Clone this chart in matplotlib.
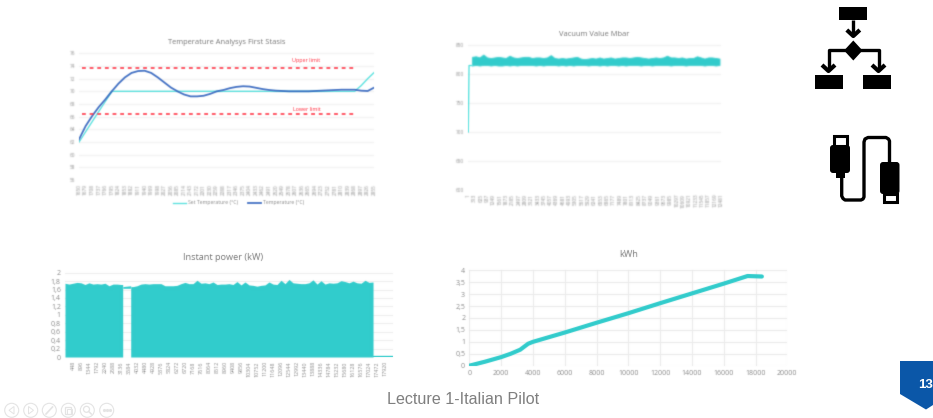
import numpy as np
import matplotlib
matplotlib.use("Agg")
import matplotlib.pyplot as plt
from matplotlib.patches import Polygon, Rectangle, FancyBboxPatch, Circle
from matplotlib.ticker import FuncFormatter

W, H = 933, 418
TEAL = "#31cccc"
LIGHT_TEAL = "#5fe3e0"
BLUE = "#4472c4"
RED = "#ff2a3c"
GREY = "#8a8a8a"
GRID = "#efefef"

# Temperature chart
temp_labels = [str(1650 + 29 * i) for i in range(46)]
temp_ticks = [76, 74, 72, 70, 68, 66, 64, 62, 60, 58, 56]
set_temperature = [62.0, 63.6, 65.2, 66.8, 68.4, 70.0, 70, 70, 70, 70, 70, 70, 70, 70, 70, 70,
                   70, 70, 70, 70, 70, 70, 70, 70, 70, 70, 70, 70, 70, 70, 70, 70,
                   70, 70, 70, 70, 70, 70, 70, 70, 70, 70, 70, 70.9, 72.0, 73.0]
temperature = [62.4, 64.5, 66.1, 67.5, 68.7, 70.0, 71.2, 72.2, 72.9, 73.2, 73.25, 72.9, 72.2, 71.4,
               70.6, 70.0, 69.5, 69.2, 69.2, 69.3, 69.6, 70.0, 70.2, 70.5, 70.7, 70.8, 70.75, 70.55,
               70.35, 70.2, 70.1, 70.05, 70.0, 70.0, 70.0, 70.0, 70.05, 70.1, 70.15, 70.2, 70.25,
               70.25, 70.25, 70.1, 70.05, 70.6]
upper_limit = [73.75] * 43
lower_limit = [66.35] * 43

# Vacuum chart
vacuum_labels = ["1", "313", "625", "937", "1249", "1561", "1873", "2185", "2497", "2809", "3121",
                 "3433", "3745", "4057", "4369", "4681", "4993", "5305", "5617", "5929", "6241",
                 "6553", "6865", "7177", "7489", "7801", "8113", "8425", "8737", "9049", "9361",
                 "9673", "9985", "10297", "10609", "10921", "11233", "11545", "11857", "12169", "12481"]
vacuum_ticks = [850, 800, 750, 700, 650, 600]
vacuum_start = 700
vacuum_upper = [830, 831, 829, 834, 829, 828, 829, 830, 829, 828, 832, 829, 828, 829, 830, 830,
                828, 829, 829, 828, 829, 833, 828, 827, 828, 827, 828, 829, 830, 827, 826, 827,
                828, 827, 829, 827, 828, 829, 827, 828, 829, 829, 828, 829, 830, 829, 828, 827,
                828, 829, 828, 829, 832, 829, 829, 828, 829, 827, 828, 828, 831, 829, 827, 829,
                829, 828, 827]
vacuum_lower = [815, 816, 815, 816, 816, 815, 816, 815, 815, 816, 815, 816, 815, 816, 816, 816,
                816, 815, 816, 815, 816, 816, 816, 815, 816, 815, 816, 815, 816, 816, 816, 815,
                816, 816, 815, 816, 815, 816, 816, 815, 816, 815, 816, 816, 816, 815, 816, 816,
                815, 816, 816, 816, 816, 815, 816, 816, 816, 815, 816, 816, 816, 816, 815, 816,
                816, 815, 816]

# Instant power chart
power_labels = [448 * k for k in range(1, 41)]
power_ticks = [0, 0.2, 0.4, 0.6, 0.8, 1, 1.2, 1.4, 1.6, 1.8, 2]
power_top = [1.75, 1.73, 1.75, 1.77, 1.76, 1.72, 1.76, 1.73, 1.74, 1.73, 1.75, 1.69, 1.73, 1.73, 1.72, 1.73,
             1.68, 1.67, 1.69, 1.73, 1.74, 1.73, 1.74, 1.74, 1.74, 1.69, 1.69, 1.69, 1.70, 1.74, 1.77,
             1.74, 1.74, 1.82, 1.75, 1.76, 1.74, 1.78, 1.72, 1.73, 1.73, 1.74, 1.72, 1.79, 1.71, 1.78,
             1.71, 1.70, 1.68, 1.70, 1.71, 1.78, 1.73, 1.72, 1.82, 1.74, 1.84, 1.76, 1.75, 1.74, 1.74,
             1.76, 1.83, 1.73, 1.81, 1.73, 1.76, 1.75, 1.76, 1.81, 1.79, 1.76, 1.80, 1.76, 1.75, 1.82,
             1.77, 1.78]
power_x = [224 * i for i in range(len(power_top))]
power_gap = (3230, 3680)
power_gap_floor = 1.63
power_tail = 0.02
power_xmax = 18350

# Energy chart
kwh_x = [0, 1000, 2000, 2600, 3200, 3700, 4000, 6000, 8000, 10000, 12000, 14000, 16000, 17500, 18400]
kwh_y = [0, 0.17, 0.36, 0.5, 0.67, 0.92, 1.0, 1.39, 1.8, 2.2, 2.62, 3.03, 3.44, 3.76, 3.74]
kwh_yticks = [0, 0.5, 1, 1.5, 2, 2.5, 3, 3.5, 4]
kwh_xticks = list(range(0, 20001, 2000))


def soften(sigma):
    """Return an agg filter applying a Gaussian blur on premultiplied colour."""
    radius = int(np.ceil(3 * sigma))
    kernel = np.exp(-0.5 * (np.arange(-radius, radius + 1) / sigma) ** 2)
    kernel /= kernel.sum()

    def apply(img, dpi):
        pad = radius
        padded = np.pad(img, ((pad, pad), (pad, pad), (0, 0)))
        alpha = padded[..., 3:4]
        work = np.concatenate([padded[..., :3] * alpha, alpha], axis=2)
        for axis in (0, 1):
            work = np.apply_along_axis(lambda m: np.convolve(m, kernel, mode="same"), axis, work)
        a = work[..., 3:4]
        rgb = np.where(a > 1e-4, work[..., :3] / np.maximum(a, 1e-4), 0.0)
        return np.clip(np.concatenate([rgb, a], axis=2), 0, 1), -pad, -pad

    return apply


def blur_artists(ax, sigma):
    f = soften(sigma)
    for art in ax.get_children():
        if hasattr(art, "set_agg_filter") and art is not ax.patch:
            art.set_agg_filter(f)
    for lab in ax.get_xticklabels() + ax.get_yticklabels():
        lab.set_agg_filter(f)
    for axis in (ax.xaxis, ax.yaxis):
        for tick in axis.get_major_ticks():
            tick.gridline.set_agg_filter(f)


def decimal(v, _=None):
    return f"{v:g}".replace(".", ",")


def panel(x0, x1, ytop, ybot):
    ax = fig.add_axes([x0 / W, 1 - ybot / H, (x1 - x0) / W, (ybot - ytop) / H])
    ax.patch.set_alpha(0)
    for s in ax.spines.values():
        s.set_visible(False)
    ax.tick_params(length=0)
    ax.set_axisbelow(True)
    return ax


plt.rcParams["font.family"] = ["Open Sans", "DejaVu Sans"]
fig = plt.figure(figsize=(W / 100, H / 100), dpi=100, facecolor="white")

# --- temperature ---
ax = panel(79, 374.3, 53.3, 180)
idx = np.arange(len(temp_labels))
ax.plot(idx, set_temperature, color=LIGHT_TEAL, lw=1.0, label="Set Temperature (°C)")
ax.plot(idx, temperature, color=BLUE, lw=1.3, label="Temperature (°C)")
ax.plot(idx[:43] + 0.4, upper_limit, color=RED, lw=1.1, ls=(0, (2.5, 2.5)))
ax.plot(idx[:43] + 0.4, lower_limit, color=RED, lw=1.1, ls=(0, (2.5, 2.5)))
ax.set_xlim(0, 45)
ax.set_ylim(56, 76)
ax.set_yticks(temp_ticks)
ax.set_xticks(idx, temp_labels, rotation=90)
ax.tick_params(axis="both", labelsize=3.4, labelcolor=GREY, pad=3)
ax.grid(axis="y", color=GRID, lw=0.7)
ax.text(34.6, 74.85, "Upper limit", color=RED, fontsize=3.9, ha="center", va="center")
ax.text(34.7, 67.15, "Lower limit", color=RED, fontsize=3.9, ha="center", va="center")
leg = ax.legend(loc="upper left", bbox_to_anchor=(0.31, -0.14), ncol=2, frameon=False, fontsize=3.7,
                labelcolor=GREY, handlelength=2.6, columnspacing=1.9, handletextpad=0.3, borderpad=0)
ax.set_title("Temperature Analysys First Stasis", fontsize=5.4, color="#777777", pad=7)
blur_artists(ax, 0.55)
leg.set_agg_filter(soften(0.55))

# --- vacuum ---
ax = panel(468.3, 721, 45.3, 189.7)
n = len(vacuum_upper)
vx = np.arange(n) + 1
ax.fill_between(vx, vacuum_lower, vacuum_upper, color=TEAL, lw=0.6)
ax.plot([0, 0.2, 1], [vacuum_start, vacuum_upper[0] - 15, vacuum_lower[0]], color=LIGHT_TEAL, lw=1)
ax.set_xlim(0, n + 0.4)
ax.set_ylim(600, 850)
ax.set_yticks(vacuum_ticks)
pos = np.linspace(0, n + 0.4, len(vacuum_labels))
ax.set_xticks(pos, vacuum_labels, rotation=90)
ax.tick_params(axis="both", labelsize=3.4, labelcolor=GREY, pad=3)
ax.grid(axis="y", color=GRID, lw=0.7)
ax.set_title("Vacuum Value Mbar", fontsize=5.4, color="#777777", pad=6.5)
blur_artists(ax, 0.55)

# --- instant power ---
ax = panel(65, 392.7, 272.7, 357)
px = np.array(power_x, dtype=float)
top = np.array(power_top)
left = px < power_gap[0]
right = px > power_gap[1]
# the fill stops either side of the outage, where only a thin cap of readings remains
ax.fill_between(np.r_[px[left], power_gap[0]], 0, np.r_[top[left], top[left][-1]], color=TEAL, lw=0)
ax.fill_between(np.r_[power_gap[1], px[right]], 0, np.r_[top[right][0], top[right]], color=TEAL, lw=0)
ax.fill_between([power_gap[0], 3450, power_gap[1]], power_gap_floor, [1.67, 1.68, 1.69], color=TEAL, lw=0)
ax.plot([px[-1], power_xmax], [power_tail, power_tail], color=TEAL, lw=1.0)
ax.set_xlim(0, power_xmax)
ax.set_ylim(0, 2)
ax.set_yticks(power_ticks)
ax.yaxis.set_major_formatter(FuncFormatter(decimal))
ax.set_xticks(power_labels, [str(v) for v in power_labels], rotation=90)
ax.tick_params(axis="y", labelsize=5.0, labelcolor=GREY, pad=3)
ax.tick_params(axis="x", labelsize=3.9, labelcolor=GREY, pad=3)
ax.grid(axis="y", color=GRID, lw=0.8)
ax.set_title("Instant power (kW)", fontsize=6.6, color="#777777", pad=9, x=0.482)
blur_artists(ax, 0.45)

# --- kWh ---
ax = panel(469.3, 787.3, 270.3, 365.7)
ax.plot(kwh_x, kwh_y, color=TEAL, lw=3.0, solid_capstyle="round")
ax.set_xlim(0, 20000)
ax.set_ylim(0, 4)
ax.set_xticks(kwh_xticks)
ax.set_yticks(kwh_yticks)
ax.yaxis.set_major_formatter(FuncFormatter(decimal))
ax.tick_params(axis="both", labelsize=5.0, labelcolor=GREY, pad=3)
ax.grid(True, color="#ececec", lw=0.8)
ax.set_title("kWh", fontsize=6.6, color="#777777", pad=9.5)
blur_artists(ax, 0.45)

# --- slide furniture in pixel coordinates ---
ov = fig.add_axes([0, 0, 1, 1], facecolor="none")
ov.set_xlim(0, W)
ov.set_ylim(H, 0)
ov.axis("off")

BLACK = "#000000"


def wire(xs, ys, lw=2.4, color=BLACK):
    ov.plot(xs, ys, color=color, lw=lw, solid_joinstyle="round", solid_capstyle="butt")


def box(x0, y0, x1, y1):
    ov.add_patch(Rectangle((x0, y0), x1 - x0, y1 - y0, color=BLACK, lw=0))


def chevron(x, y):
    wire([x - 6.5, x, x + 6.5], [y - 6, y, y - 6], lw=3.0)


# flow chart icon
box(839.3, 6.7, 867.3, 20)
wire([853.3, 853.3], [20, 35])
chevron(853.3, 36)
ov.add_patch(Polygon([[853.3, 40.5], [862.5, 50.5], [853.3, 60.5], [844.1, 50.5]], color=BLACK, lw=0))
wire([828.5, 828.5, 878.5, 878.5], [70, 49.5, 49.5, 70])
chevron(828.5, 71)
chevron(878.5, 71)
box(815, 74.7, 843.3, 88.7)
box(863.3, 74.7, 891.3, 88.7)

# cable icon
ov.add_patch(FancyBboxPatch((830, 145), 20, 28, boxstyle="round,pad=0,rounding_size=3", color=BLACK, lw=0))
ov.add_patch(Rectangle((834, 136), 12.5, 9.5, facecolor="white", edgecolor=BLACK, lw=2.2))
ov.add_patch(Rectangle((836, 173), 9, 5, color=BLACK, lw=0))
ov.add_patch(FancyBboxPatch((880, 162), 19.5, 32, boxstyle="round,pad=0,rounding_size=3", color=BLACK, lw=0))
ov.add_patch(Rectangle((884, 194), 12.5, 8, facecolor="white", edgecolor=BLACK, lw=2.2))
cable_x = [841.7, 841.7, 843, 845, 861, 863, 864, 864, 865, 868, 886, 888.5, 889.5, 889.5]
cable_y = [177, 196, 198.5, 200, 200, 199, 197, 142, 139, 137.5, 137.5, 139, 141, 162]
wire(cable_x, cable_y, lw=2.4)

# page badge
ov.add_patch(Polygon([[900, 361], [933, 361], [933, 405], [926, 409.5], [900, 394]], color="#0b57a8", lw=0))
ov.text(918.5, 385, "13", color="white", fontsize=9.5, fontweight="bold", family="Liberation Sans",
        va="center", ha="left")

# presenter controls
ring = "#e4e4e4"
for cx in (11.7, 30.7, 49.3, 68.3, 87.3, 106.7):
    ov.add_patch(Circle((cx, 410.3), 7, facecolor="white", edgecolor=ring, lw=0.8))
ov.add_patch(Polygon([[14, 406.5], [9, 410.3], [14, 414]], facecolor="none", edgecolor=ring, lw=0.7))
ov.add_patch(Polygon([[28.5, 406.5], [33.5, 410.3], [28.5, 414]], facecolor="none", edgecolor=ring, lw=0.7))
ov.plot([46, 52.5], [414, 407], color=ring, lw=1.2)
ov.add_patch(Rectangle((64.5, 407), 6.5, 6.5, facecolor="none", edgecolor=ring, lw=0.9))
ov.add_patch(Rectangle((66.5, 409), 5.5, 5, facecolor="none", edgecolor=ring, lw=0.7))
ov.add_patch(Circle((86.5, 409.3), 3, facecolor="none", edgecolor=ring, lw=0.9))
ov.plot([88.7, 91.3], [411.5, 414], color=ring, lw=1.1)
ov.plot([103.5, 106.7, 109.9], [410.3, 410.3, 410.3], ls="none", marker="o", ms=1.3, color=ring)

ov.text(463, 400, "Lecture 1-Italian Pilot", color="#7f7f7f", fontsize=11.6, family="Liberation Sans",
        ha="center", va="center")

fig.savefig("out.png", dpi=100)
